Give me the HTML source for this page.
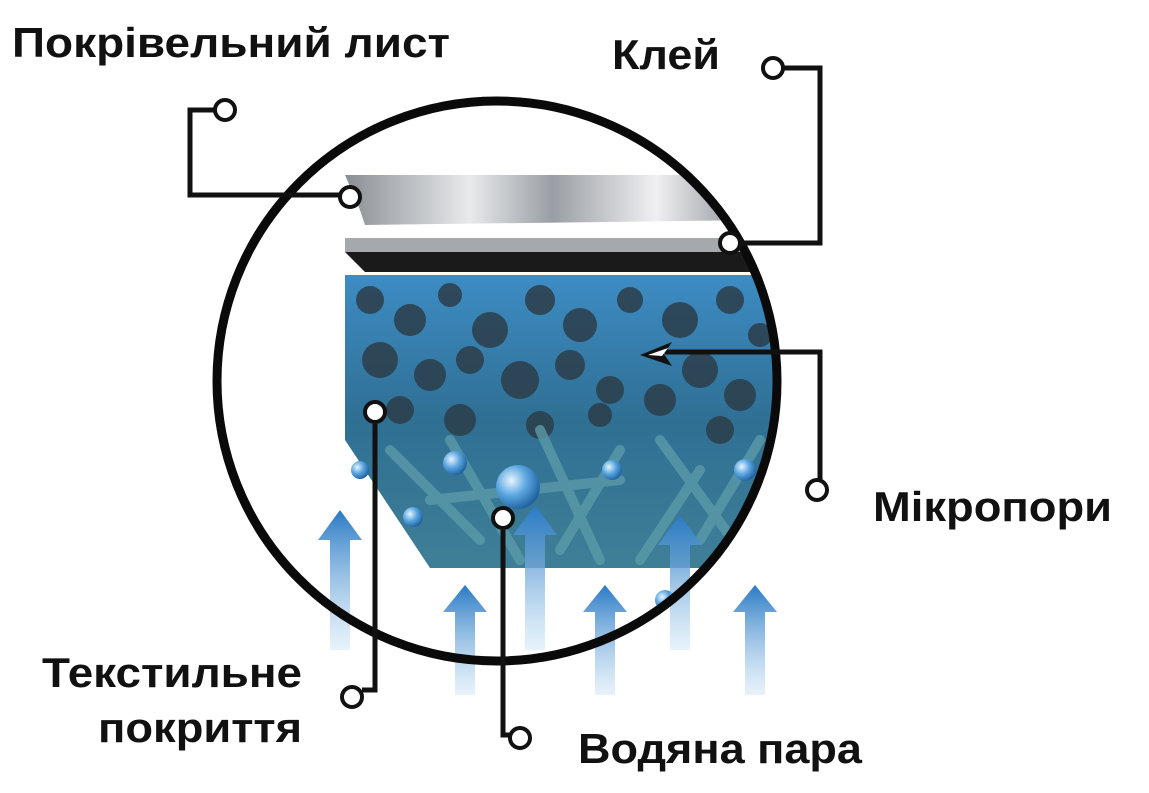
<!DOCTYPE html>
<html><head><meta charset="utf-8"><style>
html,body{margin:0;padding:0;background:#fff;width:1149px;height:793px;overflow:hidden}
svg{display:block}
text{font-family:"Liberation Sans",sans-serif;font-weight:bold;fill:#111}
</style></head><body>
<svg width="1149" height="793" viewBox="0 0 1149 793" xmlns="http://www.w3.org/2000/svg">
<defs>
<clipPath id="cc"><circle cx="497" cy="381" r="280"/></clipPath>
<linearGradient id="metal" x1="0" y1="0" x2="1" y2="0">
<stop offset="0" stop-color="#8a8e94"/><stop offset="0.3" stop-color="#e8eaec"/><stop offset="0.5" stop-color="#9a9ea4"/><stop offset="0.75" stop-color="#f0f0f2"/><stop offset="1" stop-color="#7d8288"/></linearGradient>
<linearGradient id="blue" x1="0" y1="0" x2="0" y2="1">
<stop offset="0" stop-color="#3d8cc4"/><stop offset="0.5" stop-color="#2f6f93"/><stop offset="1" stop-color="#3f7f96"/></linearGradient>
<linearGradient id="arr" x1="0" y1="0" x2="0" y2="1">
<stop offset="0" stop-color="#2a7ac4"/><stop offset="1" stop-color="#cfe6f7" stop-opacity="0.5"/></linearGradient>
<radialGradient id="drop" cx="0.35" cy="0.35" r="0.7"><stop offset="0" stop-color="#e8f4ff"/><stop offset="0.5" stop-color="#5aa6e0"/><stop offset="1" stop-color="#1d5f9e"/></radialGradient>
</defs>
<g clip-path="url(#cc)">
<polygon points="345,275 790,275 790,568 430,568 345,440" fill="url(#blue)"/>
<g fill="#2c3e4a" opacity="0.85">
<circle cx="370" cy="300" r="14"/><circle cx="410" cy="320" r="16"/><circle cx="450" cy="295" r="12"/><circle cx="490" cy="330" r="18"/><circle cx="540" cy="300" r="15"/><circle cx="580" cy="325" r="17"/><circle cx="630" cy="300" r="13"/><circle cx="680" cy="320" r="18"/><circle cx="730" cy="300" r="14"/><circle cx="760" cy="335" r="12"/>
<circle cx="380" cy="360" r="18"/><circle cx="430" cy="375" r="16"/><circle cx="470" cy="360" r="14"/><circle cx="520" cy="380" r="19"/><circle cx="570" cy="365" r="15"/><circle cx="610" cy="390" r="14"/><circle cx="700" cy="370" r="18"/><circle cx="740" cy="395" r="16"/>
<circle cx="400" cy="410" r="14"/><circle cx="460" cy="420" r="16"/><circle cx="540" cy="425" r="14"/><circle cx="600" cy="415" r="12"/><circle cx="660" cy="400" r="16"/><circle cx="720" cy="430" r="14"/>
</g>
<g stroke="#5b9aa8" stroke-width="10" opacity="0.8" stroke-linecap="round">
<line x1="390" y1="450" x2="480" y2="540"/><line x1="450" y1="440" x2="520" y2="560"/><line x1="540" y1="430" x2="600" y2="560"/><line x1="620" y1="450" x2="560" y2="550"/><line x1="660" y1="440" x2="740" y2="550"/><line x1="700" y1="470" x2="640" y2="560"/><line x1="760" y1="440" x2="700" y2="540"/><line x1="430" y1="500" x2="620" y2="480"/>
</g>
<g fill="url(#drop)">
<circle cx="518" cy="487" r="22"/><circle cx="413" cy="517" r="10"/><circle cx="455" cy="463" r="12"/><circle cx="612" cy="470" r="10"/><circle cx="745" cy="470" r="11"/><circle cx="747" cy="528" r="10"/><circle cx="665" cy="600" r="10"/><circle cx="770" cy="557" r="12"/><circle cx="360" cy="470" r="9"/>
</g>
<rect x="345" y="238" width="420" height="14" fill="#a5a8ad"/>
<polygon points="345,252 770,252 770,272 365,272" fill="#1a1a1a"/>
<polygon points="345,175 760,175 760,220 365,225 360,210" fill="url(#metal)"/>
</g>
<g fill="url(#arr)">
<polygon points="340,510 318,540 330,540 330,650 350,650 350,540 362,540"/>
<polygon points="465,585 443,612 455,612 455,695 475,695 475,612 487,612"/>
<polygon points="535,505 513,535 525,535 525,650 545,650 545,535 557,535"/>
<polygon points="605,585 583,612 595,612 595,695 615,695 615,612 627,612"/>
<polygon points="680,515 658,545 670,545 670,650 690,650 690,545 702,545"/>
<polygon points="755,585 733,612 745,612 745,695 765,695 765,612 777,612"/>
</g>
<circle cx="497" cy="381" r="280" fill="none" stroke="#0a0a0a" stroke-width="9"/>
<g fill="none" stroke="#111" stroke-width="5">
<polyline points="214,110 190,110 190,195 340,195"/>
<polyline points="784,68 820,68 820,243 740,243"/>
<polyline points="665,352 820,352 820,480"/>
<polyline points="375,424 375,690 362,690"/>
<polyline points="503,530 503,735 510,735"/>
</g>
<polygon points="640,355 672,342 664,354 672,366" fill="#111"/>
<polygon points="648,355 668,348 662,356" fill="#fff"/>
<g fill="#fff" stroke="#111" stroke-width="4">
<circle cx="225" cy="110" r="10"/><circle cx="350" cy="197" r="10"/><circle cx="773" cy="68" r="10"/><circle cx="730" cy="243" r="10"/><circle cx="817" cy="490" r="10"/><circle cx="375" cy="412" r="10"/><circle cx="352" cy="697" r="10"/><circle cx="503" cy="518" r="10"/><circle cx="520" cy="738" r="10"/>
</g>
<text x="12" y="57" font-size="42" textLength="438" lengthAdjust="spacingAndGlyphs">Покрівельний лист</text>
<text x="612" y="69" font-size="42" textLength="108" lengthAdjust="spacingAndGlyphs">Клей</text>
<text x="873" y="521" font-size="42" textLength="239" lengthAdjust="spacingAndGlyphs">Мікропори</text>
<text x="42" y="687" font-size="42" textLength="260" lengthAdjust="spacingAndGlyphs">Текстильне</text>
<text x="98" y="742" font-size="42" textLength="204" lengthAdjust="spacingAndGlyphs">покриття</text>
<text x="578" y="763" font-size="42" textLength="284" lengthAdjust="spacingAndGlyphs">Водяна пара</text>
</svg>
</body></html>
